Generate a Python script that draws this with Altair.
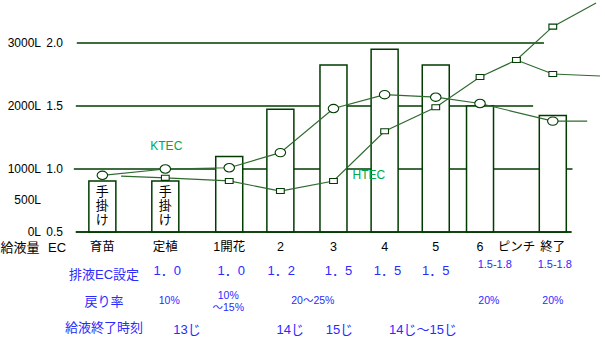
import altair as alt
import pandas as pd

# ---------------- data ----------------
stages = ["育苗", "定植", "1開花", "2", "3", "4", "5", "6", "ピンチ", "終了"]
stage_pos = [0, 1.28, 2.58, 3.62, 4.7, 5.74, 6.78, 7.68, 8.42, 9.16]   # timeline position of each stage
supply_l = [810, 810, 1200, 1950, 2650, 2900, 2650, 2000, None, 1850]   # 給液量 (L)
ktec = [0.95, 1.0, 1.01, 1.13, 1.48, 1.59, 1.57, 1.52, None, 1.38]     # KTEC (EC)
htec = [None, 0.93, 0.905, 0.825, 0.905, 1.30, 1.49, 1.73, 1.865, 2.13]  # HTEC (EC)
htec_branch = [None, None, None, None, None, None, None, None, 1.865, 1.754]
hand_note = ["手\n掛\nけ", "手\n掛\nけ", "", "", "", "", "", "", "", ""]

# line continuations (timeline position, EC)
ktec_tail = (9.86, 1.38)
htec_head = (0.38, 0.944)
htec_tail = (10.04, 2.317)
branch_tail = (10.12, 1.738)

# left axis labels
liter_ticks = [0.5, 0.75, 1.0, 1.5, 2.0]
liter_labels = ["0L", "500L", "1000L", "2000L", "3000L"]
ec_ticks = [0.5, 1.0, 1.5, 2.0]
ec_labels = ["0.5", "1.0", "1.5", "2.0"]

# grid lines (EC level, start, end on timeline)
grid_ec = [0.5, 1.0, 1.5, 2.0]
grid_start = [-0.54, -0.58, -0.54, -0.52]
grid_end = [9.54, 9.56, 8.76, 8.98]

# annotation rows
row_titles = ["排液EC設定", "戻り率", "給液終了時刻"]
ec_set_text = ["1．0", "1．0", "1．2", "1．5", "1．5", "1．5", "1.5-1.8", "1.5-1.8"]
ec_set_pos = [1.32, 2.62, 3.64, 4.8, 5.8, 6.78, 7.98, 9.2]
return_text = ["10%", "20〜25%", "20%", "20%"]
return_pos = [1.36, 4.28, 7.86, 9.16]
return_wide_text = ["10%\n 〜15%"]
return_wide_pos = [2.56]
end_text = ["13じ", "14じ", "15じ", "14じ〜15じ"]
end_pos = [1.72, 3.82, 4.82, 6.52]

# ---------------- tables ----------------
stage_df = pd.DataFrame({"stage": stages, "t": stage_pos, "liters": supply_l,
                         "ktec": ktec, "htec": htec, "branch": htec_branch,
                         "note": hand_note})

def series(col, head=None, tail=None):
    pts = [(t, v) for t, v in zip(stage_pos, stage_df[col]) if pd.notna(v)]
    if head:
        pts = [head] + pts
    if tail:
        pts = pts + [tail]
    return pd.DataFrame(pts, columns=["t", "ec"])

ktec_line = series("ktec", tail=ktec_tail)
htec_line = series("htec", head=htec_head, tail=htec_tail)
branch_line = series("branch", tail=branch_tail)
ktec_pts = series("ktec")
htec_pts = series("htec")
branch_pts = series("branch")

grid_df = pd.DataFrame({"ec": grid_ec, "t0": grid_start, "t1": grid_end})
liter_df = pd.DataFrame({"ec": liter_ticks, "label": liter_labels})
ecl_df = pd.DataFrame({"ec": ec_ticks, "label": ec_labels})
bar_df = stage_df.dropna(subset=["liters"])
note_df = stage_df[stage_df["note"] != ""]

# ---------------- styles ----------------
FONT = 'Liberation Sans, Arial, "Noto Sans CJK JP"'
DARK = "#003c00"
LINE = "#2f6a2f"
GREEN = "#00a848"
BLUE = "#2a2aff"

xs = alt.Scale(domain=[-1.98, 10.12], nice=False, zero=False)
ys = alt.Scale(domain=[-0.3413, 2.3413], nice=False, zero=False)
X = lambda f: alt.X(f, type="quantitative", scale=xs, axis=None)
Y = lambda f: alt.Y(f, type="quantitative", scale=ys, axis=None)

grid = alt.Chart(grid_df).mark_rule(color=DARK, strokeWidth=1.3).encode(
    x=X("t0"), x2="t1", y=Y("ec"))

bars = alt.Chart(bar_df).transform_calculate(
    ecbar="0.5 + datum.liters / 2000"
).mark_bar(size=27, fill="white", stroke=DARK, strokeWidth=1.5).encode(
    x=X("t"), y=Y("ecbar:Q"), y2=alt.datum(0.5))

hand = alt.Chart(note_df).mark_text(font=FONT, fontSize=13, lineHeight=14, lineBreak="\n",
                                    baseline="middle", color="black").encode(
    x=X("t"), y=alt.value(192), text="note")

def line(df):
    return alt.Chart(df).mark_line(color=LINE, strokeWidth=1.2).encode(x=X("t"), y=Y("ec"))

ellipse = "M-1,0A1,0.8 0 1,0 1,0A1,0.8 0 1,0 -1,0Z"
rect = "M-1,-0.65L1,-0.65L1,0.65L-1,0.65Z"

def markers(df, shape, size):
    return alt.Chart(df).mark_point(shape=shape, size=size, filled=True, fill="white",
                                    stroke=DARK, strokeWidth=1.1, opacity=1).encode(
        x=X("t"), y=Y("ec"))

baseline = alt.Chart(pd.DataFrame({"ec": [0.5], "t0": [-0.54], "t1": [9.54]})).mark_rule(
    color=DARK, strokeWidth=1.3).encode(x=X("t0"), x2="t1", y=Y("ec"))

liter_txt = alt.Chart(liter_df).mark_text(font=FONT, fontSize=12, align="right",
                                          baseline="middle", color="black").encode(
    x=alt.value(41), y=Y("ec"), text="label")
ec_txt = alt.Chart(ecl_df).mark_text(font=FONT, fontSize=12, align="right",
                                     baseline="middle", color="black").encode(
    x=alt.value(63), y=Y("ec"), text="label")

axis_title = alt.Chart(pd.DataFrame({"label": ["給液量", "EC"], "px": [20, 57]})).mark_text(
    font=FONT, fontSize=13, baseline="middle", color="black").encode(
    x=alt.X("px:Q", scale=None), y=alt.value(248), text="label")

stage_txt = alt.Chart(stage_df).mark_text(font=FONT, fontSize=12.5, baseline="middle",
                                          color="black").encode(
    x=X("t"), y=alt.value(247), text="stage")

series_lbl = alt.Chart(pd.DataFrame({"label": ["KTEC", "HTEC"], "t": [1.3, 5.42],
                                     "ec": [1.18, 0.95]})).mark_text(
    font=FONT, fontSize=12, baseline="middle", color=GREEN).encode(
    x=X("t"), y=Y("ec"), text="label")

row_lbl = alt.Chart(pd.DataFrame({"label": row_titles, "py": [275, 302, 328]})).mark_text(
    font=FONT, fontSize=13, baseline="middle", color=BLUE).encode(
    x=alt.value(104), y=alt.Y("py:Q", scale=None), text="label")

def row(texts, pos, py, size):
    return alt.Chart(pd.DataFrame({"label": texts, "t": pos})).mark_text(
        font=FONT, fontSize=size, baseline="middle", color=BLUE, lineHeight=12,
        lineBreak="\n").encode(
        x=X("t"), y=alt.value(py), text="label")

ec_row_a = row(ec_set_text[:6], ec_set_pos[:6], 271, 13)
ec_row_b = row(ec_set_text[6:], ec_set_pos[6:], 265, 11)
ret_row = row(return_text, return_pos, 301, 10.5)
ret_row2 = row(return_wide_text, return_wide_pos, 296, 10.5)
end_row = row(end_text, end_pos, 330, 13)

chart = alt.layer(
    grid, bars, baseline, hand,
    line(ktec_line), line(htec_line), line(branch_line),
    markers(ktec_pts, ellipse, 110), markers(htec_pts, rect, 60), markers(branch_pts, rect, 60),
    liter_txt, ec_txt, axis_title, stage_txt, series_lbl,
    row_lbl, ec_row_a, ec_row_b, ret_row, ret_row2, end_row,
).properties(
    width=605, height=338, padding=0,
    autosize=alt.AutoSizeParams(type="none"),
    background="white",
).configure_view(stroke=None)

chart.save("out.html", embed_options={"renderer": "svg", "actions": False})
